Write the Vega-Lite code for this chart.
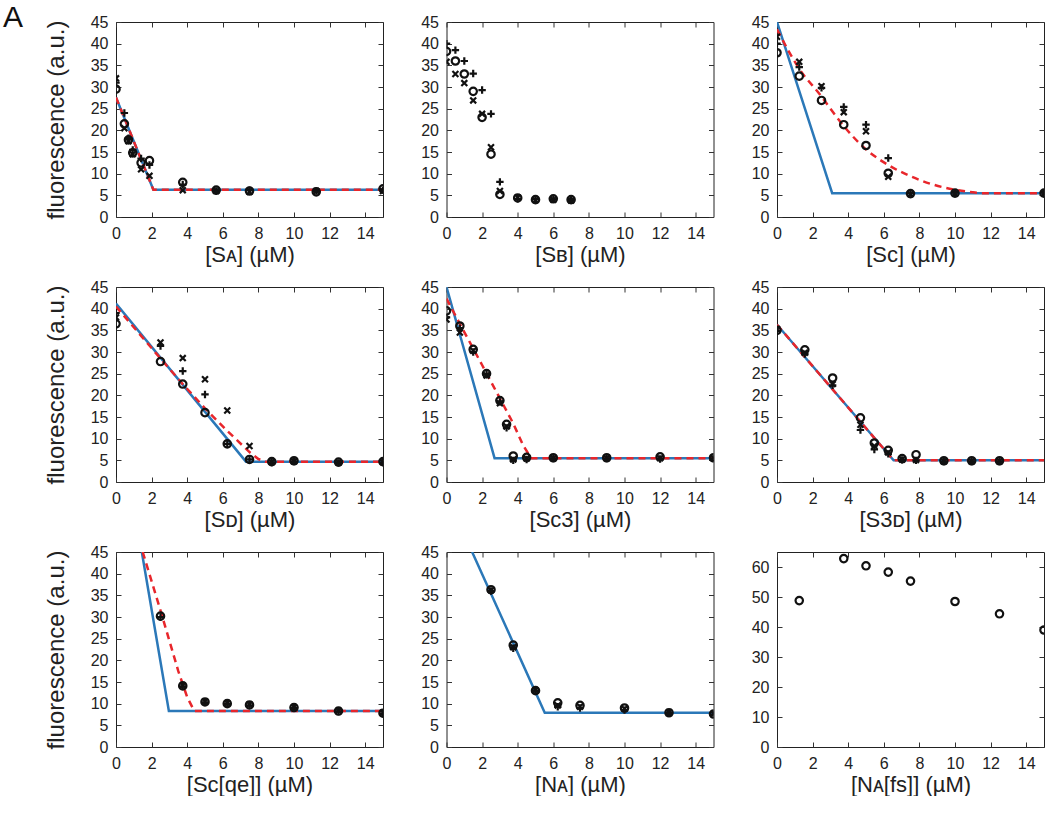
{
  "$schema": "https://vega.github.io/schema/vega-lite/v6.json",
  "padding": {"left": 3, "top": 2, "right": 0, "bottom": 0},
  "background": "white",
  "title": {"text": "A", "anchor": "start", "frame": "group", "fontSize": 30, "fontWeight": "normal", "font": "Liberation Sans", "color": "#111", "dx": -113, "baseline": "top", "offset": -19},
  "bounds": "flush",
  "columns": 3,
  "spacing": {"row": 70, "column": 63.5},
  "datasets": {
    "pts": [
      {"p":"SA","s":"o","x":0,"y":29.5},{"p":"SA","s":"+","x":0,"y":31},{"p":"SA","s":"x","x":0,"y":32},
      {"p":"SA","s":"o","x":0.47,"y":21.5},{"p":"SA","s":"+","x":0.47,"y":24},{"p":"SA","s":"x","x":0.47,"y":20.5},
      {"p":"SA","s":"o","x":0.7,"y":17.8},{"p":"SA","s":"+","x":0.7,"y":18.2},{"p":"SA","s":"x","x":0.7,"y":17.5},
      {"p":"SA","s":"o","x":0.94,"y":14.8},{"p":"SA","s":"+","x":0.94,"y":15.5},{"p":"SA","s":"x","x":0.94,"y":14.5},
      {"p":"SA","s":"o","x":1.41,"y":12.5},{"p":"SA","s":"+","x":1.41,"y":13.5},{"p":"SA","s":"x","x":1.41,"y":11},
      {"p":"SA","s":"o","x":1.88,"y":13},{"p":"SA","s":"+","x":1.88,"y":12},{"p":"SA","s":"x","x":1.88,"y":9.5},
      {"p":"SA","s":"o","x":3.75,"y":8},{"p":"SA","s":"+","x":3.75,"y":7.5},{"p":"SA","s":"x","x":3.75,"y":6.2},
      {"p":"SA","s":"o","x":5.63,"y":6.2},{"p":"SA","s":"+","x":5.63,"y":6},{"p":"SA","s":"x","x":5.63,"y":6},
      {"p":"SA","s":"o","x":7.5,"y":6},{"p":"SA","s":"+","x":7.5,"y":6.2},{"p":"SA","s":"x","x":7.5,"y":5.8},
      {"p":"SA","s":"o","x":11.25,"y":5.8},{"p":"SA","s":"+","x":11.25,"y":6},{"p":"SA","s":"x","x":11.25,"y":6},
      {"p":"SA","s":"o","x":15,"y":6.5},{"p":"SA","s":"+","x":15,"y":6.2},{"p":"SA","s":"x","x":15,"y":6},

      {"p":"SB","s":"+","x":0,"y":40},{"p":"SB","s":"o","x":0,"y":38.2},{"p":"SB","s":"x","x":0,"y":35.8},
      {"p":"SB","s":"+","x":0.5,"y":38.5},{"p":"SB","s":"o","x":0.5,"y":36},{"p":"SB","s":"x","x":0.5,"y":33},
      {"p":"SB","s":"+","x":1,"y":36},{"p":"SB","s":"o","x":1,"y":33},{"p":"SB","s":"x","x":1,"y":30.9},
      {"p":"SB","s":"+","x":1.5,"y":33.1},{"p":"SB","s":"o","x":1.5,"y":29},{"p":"SB","s":"x","x":1.5,"y":26.9},
      {"p":"SB","s":"+","x":2,"y":29.3},{"p":"SB","s":"o","x":2,"y":23},{"p":"SB","s":"x","x":2,"y":23.8},
      {"p":"SB","s":"+","x":2.5,"y":23.8},{"p":"SB","s":"o","x":2.5,"y":14.5},{"p":"SB","s":"x","x":2.5,"y":16.1},
      {"p":"SB","s":"+","x":3,"y":8.1},{"p":"SB","s":"o","x":3,"y":5.2},{"p":"SB","s":"x","x":3,"y":6},
      {"p":"SB","s":"+","x":4,"y":4.2},{"p":"SB","s":"o","x":4,"y":4.4},{"p":"SB","s":"x","x":4,"y":4.5},
      {"p":"SB","s":"+","x":5,"y":4.1},{"p":"SB","s":"o","x":5,"y":4},{"p":"SB","s":"x","x":5,"y":3.9},
      {"p":"SB","s":"+","x":6,"y":4.1},{"p":"SB","s":"o","x":6,"y":4.2},{"p":"SB","s":"x","x":6,"y":4},
      {"p":"SB","s":"+","x":7,"y":3.9},{"p":"SB","s":"o","x":7,"y":4},{"p":"SB","s":"x","x":7,"y":3.8},

      {"p":"SC","s":"x","x":0,"y":41.6},{"p":"SC","s":"+","x":0,"y":40},{"p":"SC","s":"o","x":0,"y":37.9},
      {"p":"SC","s":"x","x":1.25,"y":35.8},{"p":"SC","s":"+","x":1.25,"y":34.6},{"p":"SC","s":"o","x":1.25,"y":32.5},
      {"p":"SC","s":"x","x":2.5,"y":30.2},{"p":"SC","s":"+","x":2.5,"y":29.8},{"p":"SC","s":"o","x":2.5,"y":26.9},
      {"p":"SC","s":"x","x":3.75,"y":24.2},{"p":"SC","s":"+","x":3.75,"y":25.4},{"p":"SC","s":"o","x":3.75,"y":21.3},
      {"p":"SC","s":"x","x":5,"y":19.8},{"p":"SC","s":"+","x":5,"y":21.3},{"p":"SC","s":"o","x":5,"y":16.5},
      {"p":"SC","s":"x","x":6.25,"y":9.3},{"p":"SC","s":"+","x":6.25,"y":13.6},{"p":"SC","s":"o","x":6.25,"y":10.1},
      {"p":"SC","s":"x","x":7.5,"y":5.3},{"p":"SC","s":"+","x":7.5,"y":5.5},{"p":"SC","s":"o","x":7.5,"y":5.4},
      {"p":"SC","s":"x","x":10,"y":5.4},{"p":"SC","s":"+","x":10,"y":5.6},{"p":"SC","s":"o","x":10,"y":5.5},
      {"p":"SC","s":"x","x":15,"y":5.4},{"p":"SC","s":"+","x":15,"y":5.6},{"p":"SC","s":"o","x":15,"y":5.5},

      {"p":"SD","s":"o","x":0,"y":36.5},{"p":"SD","s":"+","x":0,"y":39},{"p":"SD","s":"x","x":0,"y":38},
      {"p":"SD","s":"x","x":2.5,"y":32.2},{"p":"SD","s":"+","x":2.5,"y":31.4},{"p":"SD","s":"o","x":2.5,"y":27.8},
      {"p":"SD","s":"x","x":3.75,"y":28.6},{"p":"SD","s":"+","x":3.75,"y":25.6},{"p":"SD","s":"o","x":3.75,"y":22.6},
      {"p":"SD","s":"x","x":5,"y":23.7},{"p":"SD","s":"+","x":5,"y":20.2},{"p":"SD","s":"o","x":5,"y":16},
      {"p":"SD","s":"x","x":6.25,"y":16.5},{"p":"SD","s":"+","x":6.25,"y":8.8},{"p":"SD","s":"o","x":6.25,"y":8.8},
      {"p":"SD","s":"x","x":7.5,"y":8.3},{"p":"SD","s":"+","x":7.5,"y":5.2},{"p":"SD","s":"o","x":7.5,"y":5.2},
      {"p":"SD","s":"x","x":8.75,"y":4.6},{"p":"SD","s":"+","x":8.75,"y":4.5},{"p":"SD","s":"o","x":8.75,"y":4.7},
      {"p":"SD","s":"x","x":10,"y":4.8},{"p":"SD","s":"+","x":10,"y":4.7},{"p":"SD","s":"o","x":10,"y":4.9},
      {"p":"SD","s":"x","x":12.5,"y":4.5},{"p":"SD","s":"+","x":12.5,"y":4.4},{"p":"SD","s":"o","x":12.5,"y":4.6},
      {"p":"SD","s":"x","x":15,"y":4.6},{"p":"SD","s":"+","x":15,"y":4.5},{"p":"SD","s":"o","x":15,"y":4.7},

      {"p":"SC3","s":"o","x":0,"y":39.5},{"p":"SC3","s":"+","x":0,"y":38},{"p":"SC3","s":"x","x":0,"y":37.5},
      {"p":"SC3","s":"o","x":0.75,"y":36},{"p":"SC3","s":"+","x":0.75,"y":35.5},{"p":"SC3","s":"x","x":0.75,"y":34.5},
      {"p":"SC3","s":"o","x":1.5,"y":30.6},{"p":"SC3","s":"+","x":1.5,"y":30},{"p":"SC3","s":"x","x":1.5,"y":30.3},
      {"p":"SC3","s":"o","x":2.25,"y":25},{"p":"SC3","s":"+","x":2.25,"y":24.8},{"p":"SC3","s":"x","x":2.25,"y":24.6},
      {"p":"SC3","s":"o","x":3,"y":18.8},{"p":"SC3","s":"+","x":3,"y":18.5},{"p":"SC3","s":"x","x":3,"y":18.2},
      {"p":"SC3","s":"o","x":3.375,"y":13.3},{"p":"SC3","s":"+","x":3.375,"y":12.5},{"p":"SC3","s":"x","x":3.375,"y":12.8},
      {"p":"SC3","s":"o","x":3.75,"y":6},{"p":"SC3","s":"+","x":3.75,"y":5},{"p":"SC3","s":"x","x":3.75,"y":5.2},
      {"p":"SC3","s":"o","x":4.5,"y":5.7},{"p":"SC3","s":"+","x":4.5,"y":5.2},{"p":"SC3","s":"x","x":4.5,"y":5.4},
      {"p":"SC3","s":"o","x":6,"y":5.6},{"p":"SC3","s":"+","x":6,"y":5.4},{"p":"SC3","s":"x","x":6,"y":5.5},
      {"p":"SC3","s":"o","x":9,"y":5.6},{"p":"SC3","s":"+","x":9,"y":5.4},{"p":"SC3","s":"x","x":9,"y":5.5},
      {"p":"SC3","s":"o","x":12,"y":5.8},{"p":"SC3","s":"+","x":12,"y":5.3},{"p":"SC3","s":"x","x":12,"y":5.5},
      {"p":"SC3","s":"o","x":15,"y":5.6},{"p":"SC3","s":"+","x":15,"y":5.4},{"p":"SC3","s":"x","x":15,"y":5.5},

      {"p":"S3D","s":"o","x":0,"y":35},{"p":"S3D","s":"+","x":0,"y":34.8},{"p":"S3D","s":"x","x":0,"y":35.3},
      {"p":"S3D","s":"o","x":1.5625,"y":30.5},{"p":"S3D","s":"+","x":1.5625,"y":29.5},{"p":"S3D","s":"x","x":1.5625,"y":29.8},
      {"p":"S3D","s":"o","x":3.125,"y":24},{"p":"S3D","s":"+","x":3.125,"y":22.3},{"p":"S3D","s":"x","x":3.125,"y":22.6},
      {"p":"S3D","s":"o","x":4.6875,"y":14.8},{"p":"S3D","s":"+","x":4.6875,"y":12},{"p":"S3D","s":"x","x":4.6875,"y":13.2},
      {"p":"S3D","s":"o","x":5.46875,"y":9},{"p":"S3D","s":"+","x":5.46875,"y":7.5},{"p":"S3D","s":"x","x":5.46875,"y":8.3},
      {"p":"S3D","s":"o","x":6.25,"y":7.3},{"p":"S3D","s":"+","x":6.25,"y":6.5},{"p":"S3D","s":"x","x":6.25,"y":6.8},
      {"p":"S3D","s":"o","x":7.03,"y":5.4},{"p":"S3D","s":"+","x":7.03,"y":5.1},{"p":"S3D","s":"x","x":7.03,"y":5.2},
      {"p":"S3D","s":"o","x":7.8125,"y":6.3},{"p":"S3D","s":"+","x":7.8125,"y":5},{"p":"S3D","s":"x","x":7.8125,"y":5.1},
      {"p":"S3D","s":"o","x":9.375,"y":4.9},{"p":"S3D","s":"+","x":9.375,"y":4.7},{"p":"S3D","s":"x","x":9.375,"y":4.8},
      {"p":"S3D","s":"o","x":10.9375,"y":4.9},{"p":"S3D","s":"+","x":10.9375,"y":4.7},{"p":"S3D","s":"x","x":10.9375,"y":4.8},
      {"p":"S3D","s":"o","x":12.5,"y":4.9},{"p":"S3D","s":"+","x":12.5,"y":4.7},{"p":"S3D","s":"x","x":12.5,"y":4.8},

      {"p":"SCqe","s":"o","x":2.5,"y":30.2},{"p":"SCqe","s":"+","x":2.5,"y":30},
      {"p":"SCqe","s":"o","x":3.75,"y":14.1},{"p":"SCqe","s":"+","x":3.75,"y":14},{"p":"SCqe","s":"x","x":3.75,"y":14.2},
      {"p":"SCqe","s":"o","x":5,"y":10.4},{"p":"SCqe","s":"+","x":5,"y":10.3},{"p":"SCqe","s":"x","x":5,"y":10.5},
      {"p":"SCqe","s":"o","x":6.25,"y":10},{"p":"SCqe","s":"+","x":6.25,"y":9.9},{"p":"SCqe","s":"x","x":6.25,"y":10.1},
      {"p":"SCqe","s":"o","x":7.5,"y":9.7},{"p":"SCqe","s":"+","x":7.5,"y":9.6},{"p":"SCqe","s":"x","x":7.5,"y":9.8},
      {"p":"SCqe","s":"o","x":10,"y":9.1},{"p":"SCqe","s":"+","x":10,"y":9},{"p":"SCqe","s":"x","x":10,"y":9.2},
      {"p":"SCqe","s":"o","x":12.5,"y":8.3},{"p":"SCqe","s":"+","x":12.5,"y":8.2},{"p":"SCqe","s":"x","x":12.5,"y":8.4},
      {"p":"SCqe","s":"o","x":15,"y":7.8},{"p":"SCqe","s":"+","x":15,"y":7.7},{"p":"SCqe","s":"x","x":15,"y":7.9},

      {"p":"NA","s":"o","x":2.5,"y":36.3},{"p":"NA","s":"+","x":2.5,"y":36},{"p":"NA","s":"x","x":2.5,"y":36.2},
      {"p":"NA","s":"o","x":3.75,"y":23.5},{"p":"NA","s":"+","x":3.75,"y":22.8},{"p":"NA","s":"x","x":3.75,"y":23},
      {"p":"NA","s":"o","x":5,"y":13},{"p":"NA","s":"+","x":5,"y":12.9},{"p":"NA","s":"x","x":5,"y":13.1},
      {"p":"NA","s":"o","x":6.25,"y":10.2},{"p":"NA","s":"+","x":6.25,"y":9.3},{"p":"NA","s":"x","x":6.25,"y":9.6},
      {"p":"NA","s":"o","x":7.5,"y":9.6},{"p":"NA","s":"+","x":7.5,"y":9},{"p":"NA","s":"x","x":7.5,"y":9.3},
      {"p":"NA","s":"o","x":10,"y":9},{"p":"NA","s":"+","x":10,"y":8.5},{"p":"NA","s":"x","x":10,"y":8.8},
      {"p":"NA","s":"o","x":12.5,"y":7.9},{"p":"NA","s":"+","x":12.5,"y":7.8},{"p":"NA","s":"x","x":12.5,"y":8},
      {"p":"NA","s":"o","x":15,"y":7.6},{"p":"NA","s":"+","x":15,"y":7.5},{"p":"NA","s":"x","x":15,"y":7.7},

      {"p":"NAfs","s":"o","x":1.25,"y":48.8},{"p":"NAfs","s":"o","x":3.75,"y":62.8},{"p":"NAfs","s":"o","x":5,"y":60.4},
      {"p":"NAfs","s":"o","x":6.25,"y":58.3},{"p":"NAfs","s":"o","x":7.5,"y":55.3},{"p":"NAfs","s":"o","x":10,"y":48.5},
      {"p":"NAfs","s":"o","x":12.5,"y":44.4},{"p":"NAfs","s":"o","x":15,"y":39}
    ],
    "fit": [
      {"p":"SA","f":"b","x":0,"y":27.6},{"p":"SA","f":"b","x":2.1,"y":6.3},{"p":"SA","f":"b","x":15,"y":6.3},
      {"p":"SA","f":"r","x":0,"y":27.6},{"p":"SA","f":"r","x":2.1,"y":6.3},{"p":"SA","f":"r","x":15,"y":6.3},
      {"p":"SC","f":"b","x":0,"y":45},{"p":"SC","f":"b","x":3.1,"y":5.5},{"p":"SC","f":"b","x":15,"y":5.5},
      {"p":"SC","f":"r","x":0,"y":43.3},{"p":"SC","f":"r","x":1.25,"y":34.2},{"p":"SC","f":"r","x":2.5,"y":27.8},{"p":"SC","f":"r","x":3,"y":25},
      {"p":"SC","f":"r","x":3.75,"y":21},{"p":"SC","f":"r","x":5,"y":15.6},{"p":"SC","f":"r","x":6.25,"y":12},{"p":"SC","f":"r","x":7.5,"y":9.4},
      {"p":"SC","f":"r","x":8.75,"y":7.5},{"p":"SC","f":"r","x":10,"y":6.3},{"p":"SC","f":"r","x":11,"y":5.7},{"p":"SC","f":"r","x":11.5,"y":5.5},{"p":"SC","f":"r","x":15,"y":5.5},
      {"p":"SD","f":"b","x":0,"y":41.2},{"p":"SD","f":"b","x":7.3,"y":4.7},{"p":"SD","f":"b","x":15,"y":4.7},
      {"p":"SD","f":"r","x":0,"y":40.5},{"p":"SD","f":"r","x":2.5,"y":28.5},{"p":"SD","f":"r","x":3.75,"y":22.6},{"p":"SD","f":"r","x":5,"y":17},
      {"p":"SD","f":"r","x":6.25,"y":11.8},{"p":"SD","f":"r","x":7.5,"y":6.9},{"p":"SD","f":"r","x":8,"y":5.3},{"p":"SD","f":"r","x":8.4,"y":4.7},{"p":"SD","f":"r","x":15,"y":4.7},
      {"p":"SC3","f":"b","x":0,"y":45},{"p":"SC3","f":"b","x":2.7,"y":5.5},{"p":"SC3","f":"b","x":15,"y":5.5},
      {"p":"SC3","f":"r","x":0,"y":42.3},{"p":"SC3","f":"r","x":1,"y":34.6},{"p":"SC3","f":"r","x":2,"y":27},{"p":"SC3","f":"r","x":3,"y":19.3},
      {"p":"SC3","f":"r","x":3.75,"y":13.5},{"p":"SC3","f":"r","x":4.3,"y":8.5},{"p":"SC3","f":"r","x":4.75,"y":5.5},{"p":"SC3","f":"r","x":15,"y":5.5},
      {"p":"S3D","f":"b","x":0,"y":36.3},{"p":"S3D","f":"b","x":6.55,"y":5},{"p":"S3D","f":"b","x":15,"y":5},
      {"p":"S3D","f":"r","x":0,"y":36.3},{"p":"S3D","f":"r","x":6.55,"y":5},{"p":"S3D","f":"r","x":15,"y":5},
      {"p":"SCqe","f":"b","x":1.45,"y":45},{"p":"SCqe","f":"b","x":2.97,"y":8.3},{"p":"SCqe","f":"b","x":15,"y":8.3},
      {"p":"SCqe","f":"r","x":1.5,"y":45},{"p":"SCqe","f":"r","x":2.5,"y":31.5},{"p":"SCqe","f":"r","x":3,"y":24.5},{"p":"SCqe","f":"r","x":3.5,"y":17.5},
      {"p":"SCqe","f":"r","x":4,"y":11.5},{"p":"SCqe","f":"r","x":4.4,"y":8.3},{"p":"SCqe","f":"r","x":15,"y":8.3},
      {"p":"NA","f":"b","x":1.44,"y":45},{"p":"NA","f":"b","x":5.52,"y":7.9},{"p":"NA","f":"b","x":15,"y":7.9}
    ]
  },
  "config": {
    "view": {"stroke": "#222", "strokeWidth": 1},
    "point": {"opacity": 1},
    "axis": {"tickSize": -5, "tickColor": "#333", "tickWidth": 1, "domain": false, "grid": false, "labelFont": "Liberation Sans", "labelFontSize": 16, "labelColor": "#222", "labelFlush": false, "labelOverlap": false, "titleFont": "Liberation Sans", "titleFontSize": 22, "titleFontWeight": "normal", "titleColor": "#222"},
    "axisX": {"labelPadding": 13, "titlePadding": 3},
    "axisY": {"labelPadding": 13, "titlePadding": 22, "titleFontSize": 24}
  },
  "concat": [
    {"width": 267, "height": 195, "resolve": {"axis": {"x": "independent", "y": "independent"}},
     "layer": [
      {"data": {"name": "fit"}, "transform": [{"filter": "datum.p == 'SA' && datum.f == 'b'"}], "mark": {"type": "line", "color": "#2b78b8", "strokeWidth": 2.5, "clip": true},
       "encoding": {"x": {"field": "x", "type": "quantitative", "scale": {"domain": [0, 15], "nice": false}, "axis": null}, "y": {"field": "y", "type": "quantitative", "scale": {"domain": [0, 45], "nice": false}, "axis": null}}},
      {"data": {"name": "fit"}, "transform": [{"filter": "datum.p == 'SA' && datum.f == 'r'"}], "mark": {"type": "line", "color": "#e8262b", "strokeWidth": 2.5, "strokeDash": [7, 5], "clip": true},
       "encoding": {"x": {"field": "x", "type": "quantitative", "axis": null}, "y": {"field": "y", "type": "quantitative", "axis": null}}},
      {"data": {"name": "pts"}, "transform": [{"filter": "datum.p == 'SA'"}], "mark": {"type": "point", "filled": false, "size": 55, "strokeWidth": 2.2, "color": "#111", "opacity": 1, "clip": true},
       "encoding": {"x": {"field": "x", "type": "quantitative", "axis": {"orient": "bottom", "title": "[Sᴀ] (µM)", "values": [0, 2, 4, 6, 8, 10, 12, 14]}},
                    "y": {"field": "y", "type": "quantitative", "axis": {"orient": "left", "title": "fluorescence (a.u.)", "values": [0, 5, 10, 15, 20, 25, 30, 35, 40, 45]}},
                    "shape": {"field": "s", "type": "nominal", "scale": {"domain": ["o", "+", "x"], "range": ["circle", "M-1,0L1,0M0,-1L0,1", "M-0.8,-0.8L0.8,0.8M-0.8,0.8L0.8,-0.8"]}, "legend": null}}},
      {"data": {"name": "pts"}, "transform": [{"filter": "datum.p == 'SA'"}], "mark": {"type": "point", "opacity": 0},
       "encoding": {"x": {"field": "x", "type": "quantitative", "axis": {"orient": "top", "labels": false, "title": null, "values": [0, 2, 4, 6, 8, 10, 12, 14]}},
                    "y": {"field": "y", "type": "quantitative", "axis": {"orient": "right", "labels": false, "title": null, "values": [0, 5, 10, 15, 20, 25, 30, 35, 40, 45]}}}}
     ]},
    {"width": 267, "height": 195, "resolve": {"axis": {"x": "independent", "y": "independent"}},
     "layer": [
      {"data": {"name": "pts"}, "transform": [{"filter": "datum.p == 'SB'"}], "mark": {"type": "point", "filled": false, "size": 55, "strokeWidth": 2.2, "color": "#111", "opacity": 1, "clip": true},
       "encoding": {"x": {"field": "x", "type": "quantitative", "scale": {"domain": [0, 15], "nice": false}, "axis": {"orient": "bottom", "title": "[Sʙ] (µM)", "values": [0, 2, 4, 6, 8, 10, 12, 14]}},
                    "y": {"field": "y", "type": "quantitative", "scale": {"domain": [0, 45], "nice": false}, "axis": {"orient": "left", "title": null, "values": [0, 5, 10, 15, 20, 25, 30, 35, 40, 45]}},
                    "shape": {"field": "s", "type": "nominal", "scale": {"domain": ["o", "+", "x"], "range": ["circle", "M-1,0L1,0M0,-1L0,1", "M-0.8,-0.8L0.8,0.8M-0.8,0.8L0.8,-0.8"]}, "legend": null}}},
      {"data": {"name": "pts"}, "transform": [{"filter": "datum.p == 'SB'"}], "mark": {"type": "point", "opacity": 0},
       "encoding": {"x": {"field": "x", "type": "quantitative", "axis": {"orient": "top", "labels": false, "title": null, "values": [0, 2, 4, 6, 8, 10, 12, 14]}},
                    "y": {"field": "y", "type": "quantitative", "axis": {"orient": "right", "labels": false, "title": null, "values": [0, 5, 10, 15, 20, 25, 30, 35, 40, 45]}}}}
     ]},
    {"width": 267, "height": 195, "resolve": {"axis": {"x": "independent", "y": "independent"}},
     "layer": [
      {"data": {"name": "fit"}, "transform": [{"filter": "datum.p == 'SC' && datum.f == 'b'"}], "mark": {"type": "line", "color": "#2b78b8", "strokeWidth": 2.5, "clip": true},
       "encoding": {"x": {"field": "x", "type": "quantitative", "scale": {"domain": [0, 15], "nice": false}, "axis": null}, "y": {"field": "y", "type": "quantitative", "scale": {"domain": [0, 45], "nice": false}, "axis": null}}},
      {"data": {"name": "fit"}, "transform": [{"filter": "datum.p == 'SC' && datum.f == 'r'"}], "mark": {"type": "line", "color": "#e8262b", "strokeWidth": 2.5, "strokeDash": [7, 5], "clip": true, "interpolate": "monotone"},
       "encoding": {"x": {"field": "x", "type": "quantitative", "axis": null}, "y": {"field": "y", "type": "quantitative", "axis": null}}},
      {"data": {"name": "pts"}, "transform": [{"filter": "datum.p == 'SC'"}], "mark": {"type": "point", "filled": false, "size": 55, "strokeWidth": 2.2, "color": "#111", "opacity": 1, "clip": true},
       "encoding": {"x": {"field": "x", "type": "quantitative", "axis": {"orient": "bottom", "title": "[Sᴄ] (µM)", "values": [0, 2, 4, 6, 8, 10, 12, 14]}},
                    "y": {"field": "y", "type": "quantitative", "axis": {"orient": "left", "title": null, "values": [0, 5, 10, 15, 20, 25, 30, 35, 40, 45]}},
                    "shape": {"field": "s", "type": "nominal", "scale": {"domain": ["o", "+", "x"], "range": ["circle", "M-1,0L1,0M0,-1L0,1", "M-0.8,-0.8L0.8,0.8M-0.8,0.8L0.8,-0.8"]}, "legend": null}}},
      {"data": {"name": "pts"}, "transform": [{"filter": "datum.p == 'SC'"}], "mark": {"type": "point", "opacity": 0},
       "encoding": {"x": {"field": "x", "type": "quantitative", "axis": {"orient": "top", "labels": false, "title": null, "values": [0, 2, 4, 6, 8, 10, 12, 14]}},
                    "y": {"field": "y", "type": "quantitative", "axis": {"orient": "right", "labels": false, "title": null, "values": [0, 5, 10, 15, 20, 25, 30, 35, 40, 45]}}}}
     ]},
    {"width": 267, "height": 195, "resolve": {"axis": {"x": "independent", "y": "independent"}},
     "layer": [
      {"data": {"name": "fit"}, "transform": [{"filter": "datum.p == 'SD' && datum.f == 'b'"}], "mark": {"type": "line", "color": "#2b78b8", "strokeWidth": 2.5, "clip": true},
       "encoding": {"x": {"field": "x", "type": "quantitative", "scale": {"domain": [0, 15], "nice": false}, "axis": null}, "y": {"field": "y", "type": "quantitative", "scale": {"domain": [0, 45], "nice": false}, "axis": null}}},
      {"data": {"name": "fit"}, "transform": [{"filter": "datum.p == 'SD' && datum.f == 'r'"}], "mark": {"type": "line", "color": "#e8262b", "strokeWidth": 2.5, "strokeDash": [7, 5], "clip": true},
       "encoding": {"x": {"field": "x", "type": "quantitative", "axis": null}, "y": {"field": "y", "type": "quantitative", "axis": null}}},
      {"data": {"name": "pts"}, "transform": [{"filter": "datum.p == 'SD'"}], "mark": {"type": "point", "filled": false, "size": 55, "strokeWidth": 2.2, "color": "#111", "opacity": 1, "clip": true},
       "encoding": {"x": {"field": "x", "type": "quantitative", "axis": {"orient": "bottom", "title": "[Sᴅ] (µM)", "values": [0, 2, 4, 6, 8, 10, 12, 14]}},
                    "y": {"field": "y", "type": "quantitative", "axis": {"orient": "left", "title": "fluorescence (a.u.)", "values": [0, 5, 10, 15, 20, 25, 30, 35, 40, 45]}},
                    "shape": {"field": "s", "type": "nominal", "scale": {"domain": ["o", "+", "x"], "range": ["circle", "M-1,0L1,0M0,-1L0,1", "M-0.8,-0.8L0.8,0.8M-0.8,0.8L0.8,-0.8"]}, "legend": null}}},
      {"data": {"name": "pts"}, "transform": [{"filter": "datum.p == 'SD'"}], "mark": {"type": "point", "opacity": 0},
       "encoding": {"x": {"field": "x", "type": "quantitative", "axis": {"orient": "top", "labels": false, "title": null, "values": [0, 2, 4, 6, 8, 10, 12, 14]}},
                    "y": {"field": "y", "type": "quantitative", "axis": {"orient": "right", "labels": false, "title": null, "values": [0, 5, 10, 15, 20, 25, 30, 35, 40, 45]}}}}
     ]},
    {"width": 267, "height": 195, "resolve": {"axis": {"x": "independent", "y": "independent"}},
     "layer": [
      {"data": {"name": "fit"}, "transform": [{"filter": "datum.p == 'SC3' && datum.f == 'b'"}], "mark": {"type": "line", "color": "#2b78b8", "strokeWidth": 2.5, "clip": true},
       "encoding": {"x": {"field": "x", "type": "quantitative", "scale": {"domain": [0, 15], "nice": false}, "axis": null}, "y": {"field": "y", "type": "quantitative", "scale": {"domain": [0, 45], "nice": false}, "axis": null}}},
      {"data": {"name": "fit"}, "transform": [{"filter": "datum.p == 'SC3' && datum.f == 'r'"}], "mark": {"type": "line", "color": "#e8262b", "strokeWidth": 2.5, "strokeDash": [7, 5], "clip": true},
       "encoding": {"x": {"field": "x", "type": "quantitative", "axis": null}, "y": {"field": "y", "type": "quantitative", "axis": null}}},
      {"data": {"name": "pts"}, "transform": [{"filter": "datum.p == 'SC3'"}], "mark": {"type": "point", "filled": false, "size": 55, "strokeWidth": 2.2, "color": "#111", "opacity": 1, "clip": true},
       "encoding": {"x": {"field": "x", "type": "quantitative", "axis": {"orient": "bottom", "title": "[Sᴄ3] (µM)", "values": [0, 2, 4, 6, 8, 10, 12, 14]}},
                    "y": {"field": "y", "type": "quantitative", "axis": {"orient": "left", "title": null, "values": [0, 5, 10, 15, 20, 25, 30, 35, 40, 45]}},
                    "shape": {"field": "s", "type": "nominal", "scale": {"domain": ["o", "+", "x"], "range": ["circle", "M-1,0L1,0M0,-1L0,1", "M-0.8,-0.8L0.8,0.8M-0.8,0.8L0.8,-0.8"]}, "legend": null}}},
      {"data": {"name": "pts"}, "transform": [{"filter": "datum.p == 'SC3'"}], "mark": {"type": "point", "opacity": 0},
       "encoding": {"x": {"field": "x", "type": "quantitative", "axis": {"orient": "top", "labels": false, "title": null, "values": [0, 2, 4, 6, 8, 10, 12, 14]}},
                    "y": {"field": "y", "type": "quantitative", "axis": {"orient": "right", "labels": false, "title": null, "values": [0, 5, 10, 15, 20, 25, 30, 35, 40, 45]}}}}
     ]},
    {"width": 267, "height": 195, "resolve": {"axis": {"x": "independent", "y": "independent"}},
     "layer": [
      {"data": {"name": "fit"}, "transform": [{"filter": "datum.p == 'S3D' && datum.f == 'b'"}], "mark": {"type": "line", "color": "#2b78b8", "strokeWidth": 2.5, "clip": true},
       "encoding": {"x": {"field": "x", "type": "quantitative", "scale": {"domain": [0, 15], "nice": false}, "axis": null}, "y": {"field": "y", "type": "quantitative", "scale": {"domain": [0, 45], "nice": false}, "axis": null}}},
      {"data": {"name": "fit"}, "transform": [{"filter": "datum.p == 'S3D' && datum.f == 'r'"}], "mark": {"type": "line", "color": "#e8262b", "strokeWidth": 2.5, "strokeDash": [7, 5], "clip": true},
       "encoding": {"x": {"field": "x", "type": "quantitative", "axis": null}, "y": {"field": "y", "type": "quantitative", "axis": null}}},
      {"data": {"name": "pts"}, "transform": [{"filter": "datum.p == 'S3D'"}], "mark": {"type": "point", "filled": false, "size": 55, "strokeWidth": 2.2, "color": "#111", "opacity": 1, "clip": true},
       "encoding": {"x": {"field": "x", "type": "quantitative", "axis": {"orient": "bottom", "title": "[S3ᴅ] (µM)", "values": [0, 2, 4, 6, 8, 10, 12, 14]}},
                    "y": {"field": "y", "type": "quantitative", "axis": {"orient": "left", "title": null, "values": [0, 5, 10, 15, 20, 25, 30, 35, 40, 45]}},
                    "shape": {"field": "s", "type": "nominal", "scale": {"domain": ["o", "+", "x"], "range": ["circle", "M-1,0L1,0M0,-1L0,1", "M-0.8,-0.8L0.8,0.8M-0.8,0.8L0.8,-0.8"]}, "legend": null}}},
      {"data": {"name": "pts"}, "transform": [{"filter": "datum.p == 'S3D'"}], "mark": {"type": "point", "opacity": 0},
       "encoding": {"x": {"field": "x", "type": "quantitative", "axis": {"orient": "top", "labels": false, "title": null, "values": [0, 2, 4, 6, 8, 10, 12, 14]}},
                    "y": {"field": "y", "type": "quantitative", "axis": {"orient": "right", "labels": false, "title": null, "values": [0, 5, 10, 15, 20, 25, 30, 35, 40, 45]}}}}
     ]},
    {"width": 267, "height": 195, "resolve": {"axis": {"x": "independent", "y": "independent"}},
     "layer": [
      {"data": {"name": "fit"}, "transform": [{"filter": "datum.p == 'SCqe' && datum.f == 'b'"}], "mark": {"type": "line", "color": "#2b78b8", "strokeWidth": 2.5, "clip": true},
       "encoding": {"x": {"field": "x", "type": "quantitative", "scale": {"domain": [0, 15], "nice": false}, "axis": null}, "y": {"field": "y", "type": "quantitative", "scale": {"domain": [0, 45], "nice": false}, "axis": null}}},
      {"data": {"name": "fit"}, "transform": [{"filter": "datum.p == 'SCqe' && datum.f == 'r'"}], "mark": {"type": "line", "color": "#e8262b", "strokeWidth": 2.5, "strokeDash": [7, 5], "clip": true},
       "encoding": {"x": {"field": "x", "type": "quantitative", "axis": null}, "y": {"field": "y", "type": "quantitative", "axis": null}}},
      {"data": {"name": "pts"}, "transform": [{"filter": "datum.p == 'SCqe'"}], "mark": {"type": "point", "filled": false, "size": 55, "strokeWidth": 2.2, "color": "#111", "opacity": 1, "clip": true},
       "encoding": {"x": {"field": "x", "type": "quantitative", "axis": {"orient": "bottom", "title": "[Sᴄ[qe]] (µM)", "values": [0, 2, 4, 6, 8, 10, 12, 14]}},
                    "y": {"field": "y", "type": "quantitative", "axis": {"orient": "left", "title": "fluorescence (a.u.)", "values": [0, 5, 10, 15, 20, 25, 30, 35, 40, 45]}},
                    "shape": {"field": "s", "type": "nominal", "scale": {"domain": ["o", "+", "x"], "range": ["circle", "M-1,0L1,0M0,-1L0,1", "M-0.8,-0.8L0.8,0.8M-0.8,0.8L0.8,-0.8"]}, "legend": null}}},
      {"data": {"name": "pts"}, "transform": [{"filter": "datum.p == 'SCqe'"}], "mark": {"type": "point", "opacity": 0},
       "encoding": {"x": {"field": "x", "type": "quantitative", "axis": {"orient": "top", "labels": false, "title": null, "values": [0, 2, 4, 6, 8, 10, 12, 14]}},
                    "y": {"field": "y", "type": "quantitative", "axis": {"orient": "right", "labels": false, "title": null, "values": [0, 5, 10, 15, 20, 25, 30, 35, 40, 45]}}}}
     ]},
    {"width": 267, "height": 195, "resolve": {"axis": {"x": "independent", "y": "independent"}},
     "layer": [
      {"data": {"name": "fit"}, "transform": [{"filter": "datum.p == 'NA' && datum.f == 'b'"}], "mark": {"type": "line", "color": "#2b78b8", "strokeWidth": 2.5, "clip": true},
       "encoding": {"x": {"field": "x", "type": "quantitative", "scale": {"domain": [0, 15], "nice": false}, "axis": null}, "y": {"field": "y", "type": "quantitative", "scale": {"domain": [0, 45], "nice": false}, "axis": null}}},
      {"data": {"name": "pts"}, "transform": [{"filter": "datum.p == 'NA'"}], "mark": {"type": "point", "filled": false, "size": 55, "strokeWidth": 2.2, "color": "#111", "opacity": 1, "clip": true},
       "encoding": {"x": {"field": "x", "type": "quantitative", "axis": {"orient": "bottom", "title": "[Nᴀ] (µM)", "values": [0, 2, 4, 6, 8, 10, 12, 14]}},
                    "y": {"field": "y", "type": "quantitative", "axis": {"orient": "left", "title": null, "values": [0, 5, 10, 15, 20, 25, 30, 35, 40, 45]}},
                    "shape": {"field": "s", "type": "nominal", "scale": {"domain": ["o", "+", "x"], "range": ["circle", "M-1,0L1,0M0,-1L0,1", "M-0.8,-0.8L0.8,0.8M-0.8,0.8L0.8,-0.8"]}, "legend": null}}},
      {"data": {"name": "pts"}, "transform": [{"filter": "datum.p == 'NA'"}], "mark": {"type": "point", "opacity": 0},
       "encoding": {"x": {"field": "x", "type": "quantitative", "axis": {"orient": "top", "labels": false, "title": null, "values": [0, 2, 4, 6, 8, 10, 12, 14]}},
                    "y": {"field": "y", "type": "quantitative", "axis": {"orient": "right", "labels": false, "title": null, "values": [0, 5, 10, 15, 20, 25, 30, 35, 40, 45]}}}}
     ]},
    {"width": 267, "height": 195, "resolve": {"axis": {"x": "independent", "y": "independent"}},
     "layer": [
      {"data": {"name": "pts"}, "transform": [{"filter": "datum.p == 'NAfs'"}], "mark": {"type": "point", "filled": false, "size": 55, "strokeWidth": 2.2, "color": "#111", "opacity": 1, "clip": true},
       "encoding": {"x": {"field": "x", "type": "quantitative", "scale": {"domain": [0, 15], "nice": false}, "axis": {"orient": "bottom", "title": "[Nᴀ[fs]] (µM)", "values": [0, 2, 4, 6, 8, 10, 12, 14]}},
                    "y": {"field": "y", "type": "quantitative", "scale": {"domain": [0, 65], "nice": false}, "axis": {"orient": "left", "title": null, "values": [0, 10, 20, 30, 40, 50, 60]}},
                    "shape": {"field": "s", "type": "nominal", "scale": {"domain": ["o", "+", "x"], "range": ["circle", "M-1,0L1,0M0,-1L0,1", "M-0.8,-0.8L0.8,0.8M-0.8,0.8L0.8,-0.8"]}, "legend": null}}},
      {"data": {"name": "pts"}, "transform": [{"filter": "datum.p == 'NAfs'"}], "mark": {"type": "point", "opacity": 0},
       "encoding": {"x": {"field": "x", "type": "quantitative", "axis": {"orient": "top", "labels": false, "title": null, "values": [0, 2, 4, 6, 8, 10, 12, 14]}},
                    "y": {"field": "y", "type": "quantitative", "axis": {"orient": "right", "labels": false, "title": null, "values": [0, 10, 20, 30, 40, 50, 60]}}}}
     ]}
  ]
}
